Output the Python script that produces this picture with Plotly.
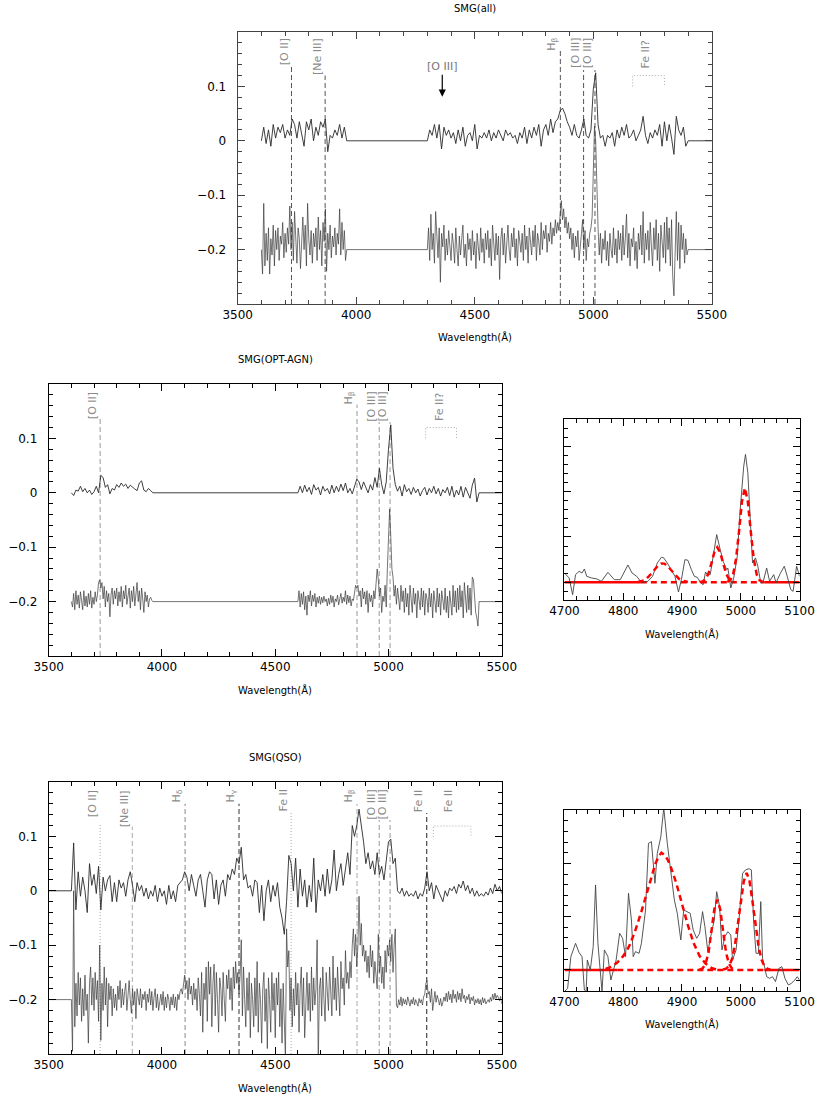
import plotly.graph_objects as go

# ------------------------------------------------------------------ data
# Panel 1: SMG(all) -- upper (smoothed) and lower (unsmoothed, displayed offset)
p1_up_a_start, p1_up_b_start, p1_up_step = 3600, 4300, 10
p1_up_a = [0.0, 0.025, -0.005, 0.02, -0.01, 0.03, 0.005, 0.025, 0.015, 0.03,
           0.005, 0.02, 0.01, 0.04, 0.03, 0.005, 0.035, 0.01, -0.01, 0.035,
           0.02, 0.04, 0.0, 0.025, 0.01, 0.035, 0.025, 0.04, -0.02, 0.01,
           0.005, 0.02, 0.01, 0.03, 0.005, 0.025, 0.0]
p1_up_b = [0.0, 0.02, 0.01, 0.03, 0.005, 0.03, -0.015, 0.025, 0.01, 0.02,
           0.005, 0.015, -0.005, 0.02, 0.0, 0.025, -0.01, 0.01, 0.015, 0.0,
           0.03, -0.015, 0.01, 0.005, 0.015, 0.005, 0.02, 0.0, 0.015, 0.005,
           0.02, 0.01, 0.0, 0.02, 0.01, 0.015, 0.005, 0.01, -0.005, 0.015,
           0.005, 0.025, -0.005, 0.02, 0.005, 0.025, 0.01, 0.03, -0.01, 0.02,
           0.03, 0.01, 0.04, 0.015, 0.035, 0.04, 0.055, 0.06, 0.05, 0.035,
           0.025, 0.01, 0.03, 0.01, 0.005, 0.02, 0.04, 0.01, 0.005, 0.02,
           0.095, 0.125, 0.03, 0.005, 0.01, -0.01, 0.01, 0.005, 0.015, -0.01,
           0.02, 0.005, 0.025, 0.01, 0.03, 0.005, 0.01, 0.02, 0.0, 0.01,
           0.02, 0.045, 0.01, -0.005, 0.015, 0.005, 0.02, 0.01, 0.03, -0.01,
           0.035, 0.0, 0.03, 0.005, -0.025, 0.045, 0.02, 0.01, 0.025, -0.01,
           0.0]
p1_lo_a_start, p1_lo_b_start, p1_lo_step = 3600, 4300, 5
p1_lo_a = [0.0, -0.045, 0.085, -0.03, 0.03, -0.02, 0.04, -0.045, 0.02, -0.01,
           0.045, -0.03, 0.035, 0.0, 0.04, -0.02, 0.025, 0.01, 0.05, -0.015,
           0.03, -0.005, 0.04, 0.01, 0.08, 0.0, 0.05, -0.02, 0.07, 0.015,
           -0.025, 0.04, 0.02, -0.035, 0.03, 0.06, 0.0, 0.045, -0.03, 0.085,
           0.02, -0.01, 0.035, -0.025, 0.03, 0.005, 0.04, -0.02, 0.06, 0.0,
           0.035, -0.03, 0.05, 0.015, 0.075, -0.04, 0.03, 0.0, 0.045, -0.015,
           0.025, 0.005, 0.04, -0.01, 0.03, 0.01, 0.075, -0.01, 0.05, 0.0,
           0.035, -0.02, 0.0]
p1_lo_b = [0.0, 0.04, -0.02, 0.065, 0.0, 0.03, -0.025, 0.07, 0.01, -0.015,
           0.04, -0.06, 0.03, 0.005, 0.045, -0.02, 0.02, -0.01, 0.035, 0.0,
           -0.02, 0.03, 0.01, -0.025, 0.04, 0.0, -0.03, 0.025, -0.01, 0.02,
           0.045, -0.015, 0.01, -0.03, 0.03, 0.0, 0.02, -0.02, 0.035, -0.01,
           0.015, -0.035, 0.03, 0.005, -0.02, 0.04, -0.005, 0.02, -0.025, 0.03,
           0.0, 0.035, -0.015, 0.02, -0.03, 0.045, 0.005, -0.02, 0.03, -0.01,
           0.025, -0.055, 0.02, 0.04, -0.01, 0.03, -0.025, 0.015, 0.045, 0.0,
           -0.02, 0.03, 0.005, 0.04, -0.015, 0.02, -0.03, 0.035, 0.01, -0.005,
           0.03, -0.02, 0.045, 0.0, 0.025, -0.025, 0.04, 0.01, -0.01, 0.035,
           0.005, 0.045, -0.02, 0.03, 0.015, -0.01, 0.05, 0.0, 0.035, 0.02,
           0.045, -0.005, 0.03, 0.015, 0.05, 0.01, 0.04, 0.025, 0.055, 0.03,
           0.05, 0.035, 0.07, 0.09, 0.055, 0.075, 0.04, 0.06, 0.03, 0.05,
           0.02, 0.04, 0.0, 0.03, -0.015, 0.025, 0.005, 0.035, -0.02, 0.015,
           0.03, 0.055, 0.0, 0.035, -0.02, 0.02, 0.005, 0.03, 0.04, 0.06,
           0.13, 0.227, 0.2, 0.09, 0.04, -0.01, 0.03, -0.025, 0.02, 0.0,
           0.035, -0.02, 0.015, -0.03, 0.03, 0.0, -0.015, 0.04, -0.01, 0.02,
           -0.025, 0.035, 0.0, 0.03, -0.02, 0.045, -0.01, 0.02, 0.065, -0.015,
           0.03, -0.03, 0.02, 0.005, 0.04, -0.02, 0.015, -0.035, 0.03, 0.0,
           0.045, -0.01, 0.07, -0.025, 0.03, 0.0, 0.035, -0.02, 0.05, 0.005,
           -0.03, 0.04, 0.0, 0.055, -0.02, 0.03, -0.04, 0.045, 0.01, -0.015,
           0.05, -0.025, 0.06, 0.0, 0.04, -0.03, 0.055, -0.05, -0.085, 0.02,
           0.07, -0.02, 0.05, -0.035, 0.045, 0.0, 0.03, -0.025, 0.02, -0.01,
           0.0]

# Panel 2: SMG(OPT-AGN)
p2_up_a_start, p2_up_b_start, p2_up_step = 3600, 4600, 10
p2_up_a = [0.0, -0.005, 0.005, 0.003, 0.012, 0.002, 0.008, 0.0, 0.005, -0.003,
           0.002, 0.012, 0.0, 0.032, 0.028, 0.01, 0.015, -0.002, 0.008, 0.005,
           0.015, 0.01, 0.018, 0.012, 0.016, 0.008, 0.014, 0.01, 0.007, 0.004,
           0.018, 0.022, 0.005, 0.002, 0.008, 0.004, 0.0]
p2_up_b = [0.0, 0.012, 0.0, 0.014, 0.002, 0.01, -0.003, 0.015, 0.005, 0.01,
           -0.004, 0.012, 0.003, 0.008, -0.002, 0.014, 0.0, 0.012, 0.002, 0.016,
           0.004, 0.018, 0.0, 0.008, -0.002, 0.012, 0.025, 0.02, 0.006, 0.02,
           0.01, 0.0, 0.015, 0.005, 0.028, 0.01, 0.045, 0.015, -0.002, 0.02,
           0.08, 0.125, 0.045, 0.015, 0.003, 0.012, -0.006, 0.015, 0.002, 0.008,
           -0.003, 0.01, 0.0, 0.007, -0.006, 0.004, 0.01, -0.004, 0.008, 0.0,
           0.012, -0.002, 0.008, -0.006, 0.006, 0.0, 0.01, -0.005, 0.012, -0.008,
           0.005, -0.004, 0.012, -0.008, 0.01, 0.0, -0.01, 0.014, 0.027, -0.017,
           0.0]
p2_lo_a_start, p2_lo_b_start, p2_lo_step = 3600, 4600, 5
p2_lo_a = [0.0, -0.01, 0.015, -0.015, 0.02, -0.005, 0.012, -0.012, 0.018, 0.0,
           -0.015, 0.02, -0.008, 0.01, -0.01, 0.015, -0.005, 0.02, -0.012, 0.008,
           -0.005, 0.018, 0.0, 0.012, 0.035, 0.04, 0.025, 0.035, 0.005, 0.028,
           -0.01, 0.02, 0.0, 0.015, -0.028, 0.012, 0.025, -0.005, 0.02, 0.005,
           0.025, -0.008, 0.018, 0.0, 0.028, -0.01, 0.02, 0.005, 0.03, -0.005,
           0.015, 0.025, -0.012, 0.02, 0.0, 0.028, -0.008, 0.015, 0.035, 0.0,
           0.02, -0.015, 0.025, 0.005, -0.02, 0.018, 0.0, 0.012, -0.01, 0.005,
           0.008, 0.002, 0.0]
p2_lo_b = [0.0, 0.02, -0.01, 0.015, -0.005, 0.018, -0.015, 0.01, -0.025, 0.012,
           0.0, 0.02, -0.008, 0.012, 0.0, 0.015, -0.01, 0.008, -0.003, 0.01,
           -0.005, 0.008, -0.002, 0.01, 0.0, 0.005, -0.008, 0.006, -0.005, 0.012,
           -0.002, 0.01, -0.01, 0.005, 0.0, 0.012, -0.006, 0.004, 0.015, -0.003,
           0.008, 0.0, 0.02, -0.005, 0.012, -0.002, 0.01, -0.008, 0.005, 0.002,
           0.02, 0.03, 0.025, 0.03, 0.01, 0.02, -0.01, 0.025, 0.005, 0.018,
           -0.005, 0.02, -0.02, 0.015, 0.0, 0.012, -0.01, 0.02, 0.005, 0.03,
           0.06, 0.04, 0.01, 0.025, -0.02, 0.01, 0.0, 0.03, -0.01, 0.06,
           0.13, 0.17, 0.12, 0.06, 0.045, 0.01, 0.03, -0.005, 0.025, 0.01,
           -0.015, 0.03, 0.0, 0.02, -0.02, 0.025, -0.01, 0.015, -0.025, 0.03,
           0.0, -0.02, 0.025, -0.005, 0.015, -0.03, 0.02, 0.0, -0.015, 0.025,
           -0.01, 0.02, -0.025, 0.015, 0.005, -0.02, 0.025, -0.01, 0.015, -0.03,
           0.02, 0.0, -0.02, 0.025, -0.01, 0.015, -0.025, 0.02, 0.005, -0.015,
           0.025, -0.02, 0.01, -0.03, 0.02, 0.0, -0.025, 0.03, -0.01, 0.02,
           -0.02, 0.025, -0.015, 0.03, -0.01, 0.02, -0.03, 0.035, 0.0, -0.02,
           0.03, -0.015, 0.025, -0.025, 0.045, 0.04, 0.01, -0.02, -0.03, -0.045,
           0.0]

# Panel 3: SMG(QSO)
p3_up_start, p3_up_step = 3600, 10
p3_up = [0.0, 0.088, -0.035, 0.035, -0.01, 0.025, 0.0, -0.04, 0.05, 0.01,
         0.03, -0.005, 0.045, -0.035, 0.025, 0.0, 0.02, 0.028, -0.02, 0.015,
         -0.02, 0.02, 0.005, 0.015, -0.01, 0.02, 0.035, 0.01, -0.02, 0.015,
         0.0, 0.01, -0.01, 0.005, -0.015, 0.0, -0.01, 0.01, -0.02, 0.005,
         -0.01, 0.0, -0.025, 0.01, -0.015, 0.0, -0.02, 0.01, 0.015, 0.02,
         0.035, 0.025, 0.0, 0.03, 0.01, -0.01, 0.02, 0.03, 0.0, -0.03,
         0.02, 0.035, 0.03, -0.015, 0.02, -0.025, 0.01, 0.02, -0.01, 0.03,
         0.02, 0.04, 0.03, 0.06, 0.05, 0.08, 0.02, 0.03, 0.005, 0.01,
         -0.01, 0.02, 0.015, -0.04, 0.01, -0.055, 0.0, 0.02, -0.02, 0.01,
         -0.01, 0.015, -0.03, -0.05, -0.08, -0.02, 0.065, 0.05, 0.0, 0.06,
         -0.03, 0.04, -0.01, 0.02, -0.03, 0.01, -0.02, 0.06, -0.04, 0.02,
         0.0, 0.03, -0.01, 0.04, -0.005, 0.02, 0.075, 0.0, 0.03, 0.05,
         0.01, 0.04, 0.07, 0.03, 0.12, 0.1, 0.12, 0.15, 0.12, 0.09,
         0.05, 0.07, 0.04, 0.055, 0.03, 0.07, 0.03, 0.045, 0.02, 0.05,
         0.09, 0.095, 0.05, 0.06, 0.0, -0.005, 0.005, -0.01, 0.0, -0.01,
         -0.005, -0.01, 0.0, -0.015, -0.005, -0.01, 0.005, 0.035, 0.0, 0.015,
         -0.015, 0.01, 0.0, -0.01, -0.02, 0.0, -0.01, 0.005, 0.0, 0.008,
         -0.005, 0.012, 0.005, 0.018, 0.0, 0.01, -0.005, 0.005, -0.01, 0.0,
         -0.01, -0.005, -0.01, -0.002, -0.008, 0.005, -0.005, 0.012, 0.0, 0.008,
         -0.005]
p3_lo_start, p3_lo_step = 3600, 5
p3_lo = [0.0, -0.095, 0.2, -0.05, 0.03, -0.03, 0.05, -0.01, 0.04, -0.04,
         0.02, -0.03, 0.045, -0.02, 0.01, -0.08, 0.03, 0.06, -0.01, 0.04,
         -0.02, 0.05, 0.0, 0.035, -0.04, 0.1, -0.075, 0.03, -0.02, 0.06,
         -0.01, 0.04, -0.05, 0.03, 0.0, 0.025, -0.03, 0.02, -0.015, 0.01,
         -0.02, 0.025, 0.0, 0.035, -0.015, 0.02, -0.01, 0.015, 0.03, -0.02,
         0.01, 0.035, 0.0, -0.025, 0.02, -0.01, 0.015, -0.035, 0.02, 0.005,
         -0.01, 0.02, -0.015, 0.01, 0.0, 0.015, -0.02, 0.01, -0.005, 0.02,
         -0.01, 0.015, -0.02, 0.005, 0.02, -0.015, 0.01, -0.02, 0.0, 0.01,
         -0.01, 0.015, -0.02, 0.005, -0.015, 0.01, 0.0, -0.02, 0.005, -0.01,
         0.01, -0.015, 0.005, -0.02, 0.01, 0.0, 0.015, 0.02, 0.01, 0.03,
         0.045, 0.02, 0.035, 0.0, 0.04, 0.01, 0.025, -0.01, 0.03, 0.0,
         0.02, -0.02, 0.04, 0.01, -0.03, 0.05, -0.06, 0.03, 0.0, 0.06,
         -0.04, 0.07, 0.01, 0.06, -0.05, 0.03, 0.065, -0.03, 0.05, 0.0,
         -0.06, 0.04, 0.02, -0.03, 0.05, 0.0, -0.04, 0.045, 0.02, 0.055,
         0.0, 0.04, -0.02, 0.06, 0.02, 0.07, 0.03, 0.05, 0.01, 0.045,
         0.11, -0.03, 0.06, 0.0, -0.05, 0.04, -0.02, 0.05, -0.07, 0.03,
         0.0, -0.05, 0.04, -0.03, 0.07, -0.06, 0.03, 0.0, -0.08, 0.02,
         0.05, -0.04, 0.02, -0.09, 0.04, 0.0, -0.06, 0.05, -0.02, 0.03,
         -0.07, 0.04, -0.01, 0.05, -0.05, 0.02, -0.08, 0.03, -0.04, -0.11,
         0.13, 0.06, 0.09, -0.02, 0.04, -0.05, 0.02, -0.03, 0.05, -0.01,
         0.03, -0.06, 0.02, 0.06, -0.03, 0.04, -0.07, 0.01, 0.05, -0.02,
         0.03, -0.04, 0.06, -0.02, 0.04, -0.01, 0.02, 0.11, -0.12, 0.02,
         0.04, -0.03, 0.06, 0.0, -0.04, 0.05, 0.01, -0.02, 0.06, 0.02,
         -0.03, 0.08, 0.0, 0.04, -0.02, 0.06, 0.01, -0.03, 0.07, 0.02,
         0.04, -0.01, 0.09, 0.03, 0.05, 0.02, 0.07, 0.04, 0.1, 0.13,
         0.08, 0.12, 0.06, 0.1, 0.19, 0.1, 0.14, 0.08, 0.1, 0.07,
         0.09, 0.05, 0.08, 0.04, 0.1, 0.06, 0.09, 0.03, 0.07, 0.04,
         0.02, 0.12, 0.05, 0.08, 0.03, 0.06, 0.02, 0.09, 0.05, 0.1,
         0.08, 0.11, 0.07, 0.12, 0.05, 0.1, 0.13, -0.01, -0.015, 0.0,
         -0.01, 0.005, -0.012, 0.002, -0.008, 0.0, -0.01, 0.005, -0.005, -0.012,
         0.0, -0.008, 0.004, -0.01, 0.0, -0.005, -0.012, 0.002, -0.006, 0.0,
         -0.01, 0.005, 0.01, 0.03, 0.035, 0.01, 0.015, -0.005, 0.02, -0.02,
         0.005, 0.015, -0.005, 0.008, 0.0, -0.01, 0.002, -0.012, -0.005, 0.005,
         -0.003, 0.012, -0.004, 0.015, 0.0, 0.01, -0.006, 0.018, 0.002, 0.01,
         -0.005, 0.015, 0.0, 0.012, -0.004, 0.02, 0.002, 0.008, -0.006, 0.006,
         0.0, 0.01, -0.008, 0.004, -0.002, 0.006, -0.01, 0.0, -0.006, 0.002,
         -0.008, 0.0, -0.01, 0.004, -0.006, 0.002, -0.008, -0.004, 0.0, -0.005,
         0.004, -0.003, 0.01, 0.0, 0.012, 0.002, 0.008, 0.004, -0.002, 0.006,
         -0.008]

offset_upper, offset_lower = 0.0, -0.2
pad_lo_x, pad_hi_x, pad_y = 3500, 5500, 0.0

# Inset 1 (OPT-AGN, H-beta/[O III] region) data and fit components
in1_wl = [4700, 4708, 4714, 4719, 4725, 4730, 4734, 4738, 4746, 4755, 4763, 4774, 4785, 4795,
          4808, 4815, 4823, 4831, 4842, 4850, 4858, 4865, 4869, 4875, 4883, 4888, 4894, 4899,
          4905, 4910, 4916, 4921, 4926, 4932, 4936, 4940, 4943, 4948, 4954, 4959, 4965, 4970,
          4976, 4978, 4983, 4988, 4994, 4999, 5005, 5008, 5012, 5018, 5020, 5025, 5029, 5034,
          5038, 5044, 5049, 5056, 5060, 5067, 5074, 5079, 5085, 5089, 5095, 5100]
in1_fl = [0.0103, 0.0048, -0.0136, 0.0085, 0.0121, 0.0103, 0.0147, 0.0066, 0.0048, 0.0037,
          0.0011, 0.011, 0.0029, 0.0029, 0.0191, 0.0103, 0.0066, 0.0, 0.0011, 0.0066,
          0.0213, 0.0276, 0.0269, 0.0213, 0.0121, 0.0066, -0.0107, 0.0029, 0.025, 0.0243,
          0.014, 0.0066, 0.0055, -0.0007, -0.0026, 0.0114, 0.0085, 0.0085, 0.0324, 0.0526,
          0.0361, 0.0232, 0.014, 0.0158, -0.0063, 0.0048, 0.0287, 0.0802, 0.128, 0.141,
          0.1207, 0.0545, 0.0213, 0.0269, 0.0177, -0.0007, 0.0004, 0.0158, 0.0011, 0.0085,
          -0.0007, 0.0096, 0.0177, 0.0066, -0.0081, -0.0099, 0.0177, 0.0066]
in1_hb_wl = [4825, 4830, 4835, 4840, 4845, 4850, 4855, 4860, 4865, 4870, 4875, 4880,
             4885, 4890, 4895, 4900, 4905, 4910]
in1_hb_fl = [0.0004, 0.001, 0.0022, 0.0042, 0.0072, 0.011, 0.0152, 0.0188, 0.0208, 0.0206,
             0.0182, 0.0144, 0.0102, 0.0065, 0.0037, 0.0019, 0.0008, 0.0003]
in1_o4959_wl = [4930, 4935, 4940, 4945, 4950, 4955, 4960, 4965, 4970, 4975, 4980, 4985, 4990]
in1_o4959_fl = [0.0002, 0.0008, 0.0033, 0.0097, 0.0208, 0.0331, 0.0386, 0.0331, 0.0208,
                0.0097, 0.0033, 0.0008, 0.0002]
in1_o5007_wl = [4977, 4982, 4987, 4992, 4997, 5002, 5007, 5012, 5017, 5022, 5027, 5032, 5037]
in1_o5007_fl = [0.0004, 0.0022, 0.0088, 0.026, 0.056, 0.089, 0.104, 0.089, 0.056, 0.026,
                0.0088, 0.0022, 0.0004]
in1_cont_solid = [(4700, 4830), (5040, 5100)]
in1_cont_dash = (4830, 5040)

# Inset 2 (QSO)
in2_wl = [4700, 4705.5, 4711, 4719, 4725, 4730, 4734, 4737, 4739, 4744,
          4749, 4753, 4757, 4761, 4764, 4768, 4774, 4779, 4783, 4788,
          4794, 4799, 4804, 4809, 4814, 4817, 4821, 4827, 4831, 4838,
          4843, 4848, 4854, 4858, 4864, 4869, 4875, 4880, 4887, 4892,
          4898, 4903, 4908, 4914, 4919, 4925, 4930, 4935, 4939, 4944,
          4950, 4955, 4959, 4964, 4968, 4973, 4978, 4983, 4986, 4992,
          4997, 5003, 5008, 5014, 5018, 5022, 5026, 5030, 5034, 5037,
          5041, 5044, 5049, 5054, 5059, 5065, 5070, 5075, 5081, 5086,
          5092, 5096, 5100]
in2_fl = [-0.0203, -0.0172, 0.0125, 0.025, 0.0163, 0.0125, -0.0188, -0.0203, 0.0094, 0.0,
          0.0219, 0.0797, 0.025, 0.0, -0.0203, 0.0188, 0.0125, -0.0094, 0.0, 0.0094,
          0.0344, 0.0297, 0.0125, 0.0719, 0.0469, 0.0125, 0.0172, 0.0156, 0.025, 0.0563,
          0.1188, 0.1203, 0.0813, 0.1094, 0.125, 0.152, 0.1188, 0.0969, 0.0656, 0.0531,
          0.0281, 0.0563, 0.0547, 0.0531, 0.0375, 0.0297, 0.0344, 0.0547, 0.0406, 0.0172,
          0.0344, 0.0469, 0.0734, 0.0594, 0.0188, 0.0313, 0.0359, 0.0328, 0.0094, 0.0188,
          0.0469, 0.0906, 0.0938, 0.095, 0.0938, 0.0438, 0.0156, 0.0156, 0.0641, 0.0109,
          0.0016, -0.0063, -0.0078, -0.0063, -0.0109, 0.0016, 0.0031, -0.0078, -0.0141, -0.0125,
          -0.0094, -0.0063, -0.0094]
in2_hb_wl = [4770, 4780, 4790, 4800, 4810, 4820, 4830, 4840, 4845, 4850, 4855, 4860, 4865,
             4870, 4875, 4880, 4885, 4890, 4900, 4910, 4920, 4930, 4940, 4950, 4960]
in2_hb_fl = [0.001, 0.003, 0.007, 0.013, 0.022, 0.036, 0.053, 0.072, 0.082, 0.092, 0.100,
             0.106, 0.110, 0.108, 0.104, 0.098, 0.090, 0.082, 0.062, 0.042, 0.025, 0.013,
             0.006, 0.002, 0.0]
in2_o4959_wl = [4930, 4935, 4940, 4945, 4950, 4955, 4960, 4965, 4970, 4975, 4980, 4985, 4990]
in2_o4959_fl = [0.0003, 0.0014, 0.0056, 0.016, 0.036, 0.057, 0.066, 0.057, 0.036, 0.016,
                0.0056, 0.0014, 0.0003]
in2_o5007_wl = [4970, 4975, 4980, 4985, 4990, 4995, 5000, 5005, 5010, 5015, 5020, 5025,
                5030, 5035, 5040, 5045, 5050]
in2_o5007_fl = [0.0004, 0.0013, 0.004, 0.010, 0.023, 0.042, 0.064, 0.083, 0.091, 0.083,
                0.064, 0.042, 0.023, 0.010, 0.004, 0.0013, 0.0004]
in2_cont_solid = [(4700, 4790), (5040, 5100)]
in2_cont_dash = (4790, 5040)

# Emission line identifications: (wavelength, label, top of marker line)
p1_lines = [(3727, "[O II]", 0.138), (3869, "[Ne III]", 0.12), (4861, "H<sub>β</sub>", 0.165),
            (4959, "[O III]", 0.13), (5007, "[O III]", 0.13)]
p2_lines = [(3727, "[O II]", 0.138), (4861, "H<sub>β</sub>", 0.162),
            (4959, "[O III]", 0.13), (5007, "[O III]", 0.13)]
p3_lines = [(3727, "[O II]", 0.121), (3869, "[Ne III]", 0.118), (4102, "H<sub>δ</sub>", 0.16),
            (4340, "H<sub>γ</sub>", 0.16), (4570, "Fe II", 0.143), (4861, "H<sub>β</sub>", 0.16),
            (4959, "[O III]", 0.13), (5007, "[O III]", 0.13), (5169, "Fe II", 0.143)]
p1_line_style = [("#555555", "5px,3px")] * 5
p2_line_style = [("#999999", "5px,3px")] * 4
p3_line_style = [("#aaaaaa", "1px,2px"), ("#aaaaaa", "5px,3px"), ("#888888", "5px,3px"),
                 ("#333333", "5px,3px"), ("#aaaaaa", "1px,2px"), ("#aaaaaa", "5px,3px"),
                 ("#999999", "5px,3px"), ("#999999", "5px,3px"), ("#222222", "5px,3px")]
# Fe II blend brackets: (x0, x1, top, leg, label, label x)
p1_feii = (5166, 5300, 0.12, 0.10, "Fe II?", 5222)
p2_feii = (5164, 5300, 0.12, 0.10, "Fe II?", 5225)
p3_feii = (5198, 5364, 0.119, 0.099, "Fe II", 5268)
o3_4363 = (4363, 0.081, "[O III]")

titles = ["SMG(all)", "SMG(OPT-AGN)", "SMG(QSO)"]
xlabel = "Wavelength(Å)"

# ------------------------------------------------------------------ layout geometry
W, H = 830, 1098
def px_dom_x(a, b):
    return [a / W, b / W]
def px_dom_y(top, bot):
    return [1 - bot / H, 1 - top / H]

dom = {
    1: (px_dom_x(231, 723), px_dom_y(32, 304)),
    2: (px_dom_x(35, 505), px_dom_y(384, 656)),
    3: (px_dom_x(35, 505), px_dom_y(782, 1054)),
    4: (px_dom_x(570, 814), px_dom_y(419, 600)),
    5: (px_dom_x(570, 814), px_dom_y(810, 991)),
}

def seg(start, step, vals):
    return [start + step * i for i in range(len(vals))]

fig = go.Figure()
UP_COL, LO_COL = "#2a2a2a", "#3a3a3a"

def add_spec(xs, ys, off, ax, color, width):
    fig.add_trace(go.Scatter(x=xs, y=[v + off for v in ys], mode="lines",
                             line=dict(color=color, width=width), xaxis="x" + ax, yaxis="y" + ax,
                             showlegend=False, hoverinfo="skip"))

# panel 1
x = seg(p1_up_a_start, p1_up_step, p1_up_a) + seg(p1_up_b_start, p1_up_step, p1_up_b) + [pad_hi_x]
y = p1_up_a + p1_up_b + [pad_y]
add_spec(x, y, offset_upper, "", UP_COL, 0.9)
x = seg(p1_lo_a_start, p1_lo_step, p1_lo_a) + seg(p1_lo_b_start, p1_lo_step, p1_lo_b) + [pad_hi_x]
y = p1_lo_a + p1_lo_b + [pad_y]
add_spec(x, y, offset_lower, "", LO_COL, 0.7)
# panel 2
x = seg(p2_up_a_start, p2_up_step, p2_up_a) + seg(p2_up_b_start, p2_up_step, p2_up_b) + [pad_hi_x]
y = p2_up_a + p2_up_b + [pad_y]
add_spec(x, y, offset_upper, "2", UP_COL, 0.9)
x = seg(p2_lo_a_start, p2_lo_step, p2_lo_a) + seg(p2_lo_b_start, p2_lo_step, p2_lo_b) + [pad_hi_x]
y = p2_lo_a + p2_lo_b + [pad_y]
add_spec(x, y, offset_lower, "2", LO_COL, 0.7)
# panel 3
x = [pad_lo_x] + seg(p3_up_start, p3_up_step, p3_up)
y = [pad_y] + p3_up
add_spec(x, y, offset_upper, "3", UP_COL, 0.9)
x = [pad_lo_x] + seg(p3_lo_start, p3_lo_step, p3_lo)
y = [pad_y] + p3_lo
add_spec(x, y, offset_lower, "3", LO_COL, 0.7)

# insets
RED = "#ff0000"
def add_inset(ax, wl, fl, comps, solid, dash):
    for a, b in solid:
        fig.add_trace(go.Scatter(x=[a, b], y=[0, 0], mode="lines", line=dict(color=RED, width=2.5),
                                 xaxis="x" + ax, yaxis="y" + ax, showlegend=False, hoverinfo="skip"))
    fig.add_trace(go.Scatter(x=list(dash), y=[0, 0], mode="lines",
                             line=dict(color=RED, width=2.5, dash="6px,4px"),
                             xaxis="x" + ax, yaxis="y" + ax, showlegend=False, hoverinfo="skip"))
    fig.add_trace(go.Scatter(x=wl, y=fl, mode="lines", line=dict(color="#444444", width=0.9),
                             xaxis="x" + ax, yaxis="y" + ax, showlegend=False, hoverinfo="skip"))
    for cw, cf in comps:
        fig.add_trace(go.Scatter(x=cw, y=cf, mode="lines", line=dict(color=RED, width=2.5, dash="6px,4px"),
                                 xaxis="x" + ax, yaxis="y" + ax, showlegend=False, hoverinfo="skip"))

add_inset("4", in1_wl, in1_fl, [(in1_hb_wl, in1_hb_fl), (in1_o4959_wl, in1_o4959_fl),
                               (in1_o5007_wl, in1_o5007_fl)], in1_cont_solid, in1_cont_dash)
add_inset("5", in2_wl, in2_fl, [(in2_hb_wl, in2_hb_fl), (in2_o4959_wl, in2_o4959_fl),
                               (in2_o5007_wl, in2_o5007_fl)], in2_cont_solid, in2_cont_dash)

# ------------------------------------------------------------------ axes
FONT = "DejaVu Sans"
def xax(n, rng, tv, minor_dt, frame="black"):
    d, _ = dom[n]
    return dict(domain=d, range=rng, anchor="y" if n == 1 else "y%d" % n, showline=True,
                linecolor=frame, linewidth=1, mirror="ticks", ticks="inside", ticklen=7,
                tickcolor=frame, tickwidth=1, showgrid=False, zeroline=False,
                tickmode="array", tickvals=tv, ticktext=[str(v) for v in tv],
                tickfont=dict(family=FONT, size=12, color="black"),
                minor=dict(ticks="inside", ticklen=4, tickcolor=frame, tickmode="linear",
                           tick0=rng[0], dtick=minor_dt, showgrid=False))

def yax(n, rng, tv, tt, minor_dt, labels=True, frame="black"):
    _, d = dom[n]
    ax = dict(domain=d, range=rng, anchor="x" if n == 1 else "x%d" % n, showline=True,
              linecolor=frame, linewidth=1, mirror="ticks", ticks="inside", ticklen=7,
              tickcolor=frame, tickwidth=1, showgrid=False, zeroline=False,
              tickmode="array", tickvals=tv, showticklabels=labels,
              tickfont=dict(family=FONT, size=12, color="black"),
              minor=dict(ticks="inside", ticklen=4, tickcolor=frame, tickmode="linear",
                         tick0=0, dtick=minor_dt, showgrid=False))
    if labels:
        ax["ticktext"] = tt
        ax["ticklabelstandoff"] = 8
    return ax

main_xt = [3500, 4000, 4500, 5000, 5500]
main_yt = [-0.2, -0.1, 0, 0.1]
main_ytt = ["−0.2", "−0.1", "0", "0.1"]
ins_xt = [4700, 4800, 4900, 5000, 5100]
ins_yt = [0, 0.05, 0.1, 0.15]

layout = dict(width=W, height=H, margin=dict(l=0, r=0, t=0, b=0), autosize=False,
              paper_bgcolor="white", plot_bgcolor="white", showlegend=False)
layout["xaxis"] = xax(1, [3500, 5500], main_xt, 100, frame="#444444")
layout["yaxis"] = yax(1, [-0.3, 0.2], main_yt, main_ytt, 0.02, frame="#444444")
layout["xaxis2"] = xax(2, [3500, 5500], main_xt, 100)
layout["yaxis2"] = yax(2, [-0.3, 0.2], main_yt, main_ytt, 0.02)
layout["xaxis3"] = xax(3, [3500, 5500], main_xt, 100)
layout["yaxis3"] = yax(3, [-0.3, 0.2], main_yt, main_ytt, 0.02)
layout["xaxis4"] = xax(4, [4700, 5100], ins_xt, 20)
layout["yaxis4"] = yax(4, [-0.0195, 0.18], ins_yt, None, 0.01, labels=False)
layout["xaxis5"] = xax(5, [4700, 5100], ins_xt, 20)
layout["yaxis5"] = yax(5, [-0.0197, 0.15], ins_yt, None, 0.01, labels=False)
fig.update_layout(**layout)

# ------------------------------------------------------------------ line markers & labels
shapes, annos = [], []
LBL = dict(family=FONT, size=11, color="#8a8a8a")

def mark_lines(ax, lines, styles, label_top):
    xr, yr = ("x", "y") if ax == "" else ("x" + ax, "y" + ax)
    for (wl, lab, top), (col, dash) in zip(lines, styles):
        shapes.append(dict(type="line", xref=xr, yref=yr, x0=wl, x1=wl, y0=-0.3, y1=top,
                           line=dict(color=col, width=1, dash=dash), layer="below"))
        annos.append(dict(xref=xr, yref=yr, x=wl, y=label_top, text=lab, textangle=-90,
                          showarrow=False, xanchor="right", yanchor="top", xshift=1,
                          font=LBL))

def bracket(ax, b, label_top):
    xr, yr = ("x", "y") if ax == "" else ("x" + ax, "y" + ax)
    x0, x1, top, leg, lab, lx = b
    shapes.append(dict(type="path", xref=xr, yref=yr,
                       path="M %g,%g L %g,%g L %g,%g L %g,%g" % (x0, leg, x0, top, x1, top, x1, leg),
                       line=dict(color="#aaaaaa", width=1, dash="1px,2px")))
    annos.append(dict(xref=xr, yref=yr, x=lx, y=label_top, text=lab, textangle=-90,
                      showarrow=False, xanchor="center", yanchor="top", font=LBL))

mark_lines("", p1_lines, p1_line_style, 0.193)
mark_lines("2", p2_lines, p2_line_style, 0.189)
mark_lines("3", p3_lines, p3_line_style, 0.189)
bracket("", p1_feii, 0.188)
bracket("2", p2_feii, 0.188)
bracket("3", p3_feii, 0.189)

annos.append(dict(xref="x", yref="y", x=o3_4363[0], y=o3_4363[1], text=o3_4363[2],
                  showarrow=True, ax=0, ay=-30, arrowhead=2, arrowsize=1.2, arrowwidth=1.2,
                  arrowcolor="black", font=dict(family=FONT, size=11, color="#777777")))

def cx(n):
    d = dom[n][0]
    return (d[0] + d[1]) / 2

TFONT = dict(family=FONT, size=10, color="black")
for n, t, ty in [(1, titles[0], 8), (2, titles[1], 360), (3, titles[2], 757)]:
    annos.append(dict(xref="paper", yref="paper", x=cx(n), y=1 - ty / H, text=t, showarrow=False,
                      xanchor="center", yanchor="middle", font=TFONT))
for n, ty in [(1, 337), (2, 690), (3, 1088), (4, 634), (5, 1024)]:
    annos.append(dict(xref="paper", yref="paper", x=cx(n), y=1 - ty / H, text=xlabel, showarrow=False,
                      xanchor="center", yanchor="middle", font=TFONT))

fig.update_layout(shapes=shapes, annotations=annos)
fig.write_html("out.html", config={"displayModeBar": False},
               post_script="document.body.style.margin='0';")
